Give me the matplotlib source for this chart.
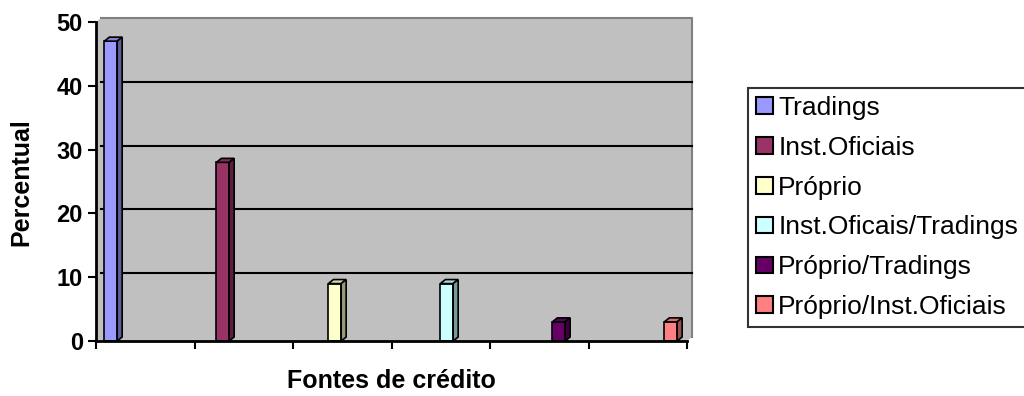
import matplotlib
matplotlib.use('Agg')
import matplotlib.pyplot as plt
from matplotlib.patches import Patch, Polygon
import numpy as np

# Data
series = ['Tradings', 'Inst.Oficiais', 'Próprio', 'Inst.Oficais/Tradings',
          'Próprio/Tradings', 'Próprio/Inst.Oficiais']
values = [47, 28, 9, 9, 3, 3]
colors = ['#9999FF', '#993366', '#FFFFCC', '#CCFFFF', '#660066', '#FF8080']
yticks = [0, 10, 20, 30, 40, 50]

plt.rcParams['font.family'] = ['Liberation Sans', 'DejaVu Sans']

fig = plt.figure(figsize=(10.24, 3.96), dpi=100)
ax = fig.add_axes([96 / 1024, 55 / 396, 591 / 1024, 319 / 396])
ax.set_xlim(0, 6)
ax.set_ylim(0, 50)
ax.set_facecolor('none')

# depth of the 3D look
dx_ax = 5 / 591      # axes fraction
dy_ax = 4 / 319
ddx = 5 / 98.5       # data units
ddy = 4 / 6.38

# back wall + side strips
wall = Polygon([(0, 0), (1, 0), (1 + dx_ax, dy_ax), (1 + dx_ax, 1 + dy_ax),
                (dx_ax, 1 + dy_ax), (0, 1)], closed=True, transform=ax.transAxes,
               facecolor='#C0C0C0', edgecolor='none', clip_on=False, zorder=0)
ax.add_patch(wall)
ax.plot([dx_ax, 1 + dx_ax, 1 + dx_ax], [1 + dy_ax, 1 + dy_ax, dy_ax],
        transform=ax.transAxes, color='#808080', lw=1.5, clip_on=False, zorder=0.5)

# gridlines on the back wall
for v in yticks[1:-1]:
    ax.plot([dx_ax, 1 + dx_ax], [v + ddy, v + ddy], transform=ax.get_yaxis_transform(),
            color='black', lw=1.5, clip_on=False, zorder=1)

# bars
width = 0.13
xpos = 0.15 + np.arange(len(values)) * 1.137
for x, v, c in zip(xpos, values, colors):
    ax.bar(x, v, width=width, color=c, edgecolor='black', lw=1.2, zorder=3)
    x0, x1 = x - width / 2, x + width / 2
    rgb = np.array(matplotlib.colors.to_rgb(c))
    top = Polygon([(x0, v), (x0 + ddx, v + ddy), (x1 + ddx, v + ddy), (x1, v)],
                  closed=True, facecolor=rgb * 0.85, edgecolor='black', lw=1.2,
                  zorder=3, clip_on=False)
    side = Polygon([(x1, 0), (x1 + ddx, ddy), (x1 + ddx, v + ddy), (x1, v)],
                   closed=True, facecolor=rgb * 0.6, edgecolor='black', lw=1.2,
                   zorder=3, clip_on=False)
    ax.add_patch(top)
    ax.add_patch(side)

for s in ['top', 'right']:
    ax.spines[s].set_visible(False)
for s in ['left', 'bottom']:
    ax.spines[s].set_linewidth(2)
    ax.spines[s].set_zorder(4)

ax.set_xticks(np.arange(7))
ax.set_xticklabels([])
ax.set_yticks(yticks)
ax.tick_params(axis='both', direction='out', length=6, width=1.5)
for lab in ax.get_yticklabels():
    lab.set_fontsize(17)
    lab.set_fontweight('bold')

# axis titles
fig.text(21 / 1024, 1 - 182 / 396, 'Percentual', rotation=90, fontsize=18,
         fontweight='bold', ha='center', va='center')
fig.text(391 / 1024, 1 - 381 / 396, 'Fontes de crédito', fontsize=18,
         fontweight='bold', ha='center', va='center')

handles = [Patch(facecolor=c, edgecolor='black', lw=1.5) for c in colors]
leg = fig.legend(handles, series, loc='upper left',
                 bbox_to_anchor=(748 / 1024, 1 - 88 / 396),
                 fontsize=19, frameon=True, fancybox=False,
                 handlelength=0.65, handleheight=0.6, handletextpad=0.2,
                 labelspacing=0.6, borderpad=0.3, borderaxespad=0)
leg.get_frame().set_edgecolor('black')
leg.get_frame().set_linewidth(1.5)

fig.savefig('out.png', dpi=100)
